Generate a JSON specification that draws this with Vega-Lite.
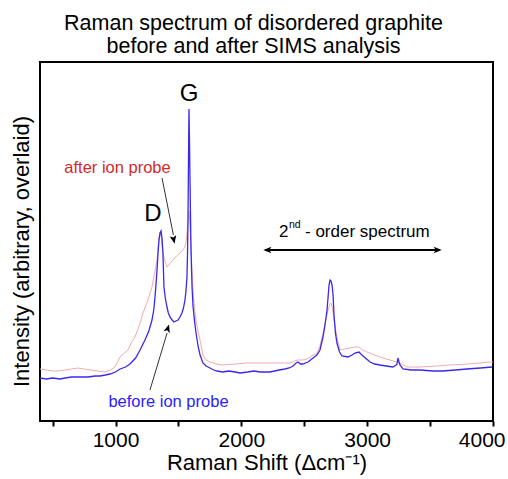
{
  "$schema": "https://vega.github.io/schema/vega-lite/v6.json",
  "width": 453,
  "height": 359,
  "autosize": {"type": "none"},
  "padding": {"left": 40, "top": 62, "right": 15, "bottom": 58},
  "background": "white",
  "config": {
    "view": {"stroke": "black", "strokeWidth": 2},
    "font": "Liberation Sans",
    "axis": {"titleFontWeight": "normal", "titleColor": "black", "labelColor": "black", "grid": false}
  },
  "title": {
    "text": ["Raman spectrum of disordered graphite", "before and after SIMS analysis"],
    "fontSize": 21.5,
    "fontWeight": "normal",
    "font": "Liberation Sans",
    "color": "black",
    "anchor": "middle",
    "dx": -13,
    "offset": 5,
    "lineHeight": 23
  },
  "datasets": {
    "before": [
      {"x":400,"y":43},{"x":450,"y":42},{"x":500,"y":43},{"x":559,"y":42},{"x":600,"y":43},{"x":650,"y":44},{"x":718,"y":44},{"x":780,"y":44},{"x":840,"y":45},{"x":877,"y":45},{"x":920,"y":46},{"x":956,"y":47},{"x":1000,"y":49},{"x":1036,"y":52},{"x":1080,"y":54},{"x":1115,"y":57},{"x":1160,"y":63},{"x":1195,"y":71},{"x":1234,"y":81},{"x":1265,"y":90},{"x":1290,"y":101},{"x":1305,"y":112},{"x":1314,"y":124},{"x":1322,"y":137},{"x":1330,"y":151},{"x":1340,"y":172},{"x":1346,"y":181},{"x":1354,"y":188},{"x":1362,"y":190},{"x":1370,"y":182},{"x":1377,"y":168},{"x":1385,"y":134},{"x":1397,"y":122},{"x":1409,"y":114},{"x":1420,"y":108},{"x":1433,"y":104},{"x":1450,"y":101},{"x":1465,"y":99},{"x":1480,"y":100},{"x":1497,"y":101},{"x":1512,"y":104},{"x":1528,"y":108},{"x":1540,"y":113},{"x":1552,"y":121},{"x":1560,"y":130},{"x":1568,"y":144},{"x":1572,"y":165},{"x":1576,"y":201},{"x":1580,"y":260},{"x":1584,"y":312},{"x":1588,"y":280},{"x":1592,"y":241},{"x":1596,"y":205},{"x":1600,"y":171},{"x":1608,"y":135},{"x":1616,"y":115},{"x":1628,"y":100},{"x":1640,"y":88},{"x":1656,"y":75},{"x":1672,"y":66},{"x":1695,"y":58},{"x":1720,"y":55},{"x":1751,"y":53},{"x":1780,"y":51},{"x":1807,"y":50},{"x":1850,"y":49},{"x":1900,"y":50},{"x":1950,"y":49},{"x":1989,"y":48},{"x":2050,"y":49},{"x":2100,"y":50},{"x":2150,"y":49},{"x":2228,"y":49},{"x":2300,"y":51},{"x":2347,"y":52},{"x":2380,"y":53},{"x":2411,"y":55},{"x":2435,"y":58},{"x":2450,"y":59},{"x":2470,"y":57},{"x":2490,"y":57},{"x":2530,"y":59},{"x":2570,"y":63},{"x":2600,"y":66},{"x":2625,"y":71},{"x":2649,"y":84},{"x":2665,"y":96},{"x":2681,"y":111},{"x":2697,"y":136},{"x":2705,"y":141},{"x":2713,"y":140},{"x":2721,"y":136},{"x":2729,"y":126},{"x":2737,"y":105},{"x":2748,"y":88},{"x":2760,"y":78},{"x":2780,"y":69},{"x":2800,"y":65},{"x":2848,"y":64},{"x":2880,"y":66},{"x":2903,"y":68},{"x":2935,"y":69},{"x":2950,"y":67},{"x":2967,"y":65},{"x":2995,"y":62},{"x":3023,"y":59},{"x":3060,"y":57},{"x":3102,"y":56},{"x":3150,"y":55},{"x":3205,"y":54},{"x":3230,"y":56},{"x":3237,"y":57},{"x":3245,"y":63},{"x":3253,"y":59},{"x":3261,"y":56},{"x":3285,"y":52},{"x":3350,"y":51},{"x":3420,"y":51},{"x":3523,"y":50},{"x":3600,"y":50},{"x":3700,"y":51},{"x":3793,"y":52},{"x":3900,"y":53},{"x":3992,"y":54}
    ],
    "after": [
      {"x":400,"y":52},{"x":450,"y":51},{"x":500,"y":50},{"x":543,"y":50},{"x":600,"y":51},{"x":650,"y":52},{"x":702,"y":53},{"x":750,"y":52},{"x":805,"y":51},{"x":860,"y":50},{"x":917,"y":49},{"x":960,"y":51},{"x":996,"y":54},{"x":1036,"y":64},{"x":1070,"y":68},{"x":1099,"y":71},{"x":1125,"y":78},{"x":1155,"y":84},{"x":1190,"y":96},{"x":1219,"y":108},{"x":1255,"y":120},{"x":1290,"y":134},{"x":1310,"y":147},{"x":1330,"y":161},{"x":1340,"y":175},{"x":1346,"y":184},{"x":1354,"y":189},{"x":1362,"y":186},{"x":1370,"y":176},{"x":1377,"y":168},{"x":1393,"y":160},{"x":1409,"y":154},{"x":1430,"y":157},{"x":1457,"y":161},{"x":1485,"y":165},{"x":1513,"y":168},{"x":1535,"y":171},{"x":1552,"y":174},{"x":1562,"y":180},{"x":1568,"y":188},{"x":1576,"y":200},{"x":1584,"y":210},{"x":1592,"y":195},{"x":1600,"y":175},{"x":1608,"y":150},{"x":1616,"y":130},{"x":1628,"y":112},{"x":1640,"y":100},{"x":1656,"y":90},{"x":1672,"y":81},{"x":1695,"y":66},{"x":1720,"y":61},{"x":1751,"y":59},{"x":1800,"y":57},{"x":1854,"y":56},{"x":1950,"y":57},{"x":2050,"y":58},{"x":2124,"y":58},{"x":2250,"y":58},{"x":2387,"y":58},{"x":2420,"y":60},{"x":2450,"y":61},{"x":2490,"y":61},{"x":2522,"y":62},{"x":2560,"y":65},{"x":2601,"y":68},{"x":2625,"y":75},{"x":2649,"y":88},{"x":2670,"y":100},{"x":2689,"y":111},{"x":2705,"y":117},{"x":2713,"y":118},{"x":2721,"y":115},{"x":2729,"y":108},{"x":2745,"y":95},{"x":2760,"y":84},{"x":2784,"y":71},{"x":2820,"y":72},{"x":2864,"y":73},{"x":2900,"y":74},{"x":2935,"y":74},{"x":2965,"y":71},{"x":2999,"y":69},{"x":3060,"y":66},{"x":3126,"y":63},{"x":3180,"y":61},{"x":3237,"y":59},{"x":3261,"y":58},{"x":3290,"y":56},{"x":3317,"y":54},{"x":3420,"y":54},{"x":3550,"y":55},{"x":3658,"y":56},{"x":3800,"y":57},{"x":3976,"y":59},{"x":4000,"y":59}
    ],
    "peaks": [
      {"x":1584,"y":327,"t":"G"},
      {"x":1298,"y":207,"t":"D"}
    ],
    "afterLabel": [{"x":1016,"y":253,"t":"after ion probe"}],
    "beforeLabel": [{"x":1421,"y":19,"t":"before ion probe"}],
    "orderMain": [
      {"x":2300,"y":189,"t":"2"},
      {"x":2506,"y":189,"t":"- order spectrum"}
    ],
    "orderSup": [{"x":2378,"y":196,"t":"nd"}],
    "arrowLines": [
      {"x":1370,"y":243,"x2":1460,"y2":186},
      {"x":1274,"y":31,"x2":1410,"y2":88},
      {"x":2200,"y":171,"x2":3567,"y2":171}
    ],
    "headAfter": [{"x":1462,"y":182}],
    "headBefore": [{"x":1414,"y":92}],
    "headLeft": [{"x":2212,"y":171}],
    "headRight": [{"x":3555,"y":171}]
  },
  "encoding": {
    "x": {
      "field": "x",
      "type": "quantitative",
      "scale": {"domain": [400, 4000], "nice": false, "zero": false},
      "axis": {
        "title": "Raman Shift (Δcm⁻¹)",
        "titleFontSize": 22,
        "titlePadding": 2,
        "labelFontSize": 21,
        "labelPadding": 3,
        "values": [500,1000,1500,2000,2500,3000,3500,4000],
        "labelExpr": "datum.value % 1000 == 0 ? format(datum.value, 'd') : ''",
        "domain": false,
        "tickSize": 5,
        "tickWidth": 2,
        "tickColor": "black",
        "labelFlush": true,
        "labelFlushOffset": 12,
        "labelOverlap": false
      }
    },
    "y": {
      "field": "y",
      "type": "quantitative",
      "scale": {"domain": [0, 359], "nice": false, "zero": false},
      "axis": {
        "title": "Intensity (arbitrary, overlaid)",
        "titleFontSize": 22,
        "titlePadding": 7,
        "titleY": 189,
        "labels": false,
        "ticks": false,
        "domain": false
      }
    }
  },
  "layer": [
    {"data": {"name": "after"}, "mark": {"type": "line", "color": "#f2acac", "strokeWidth": 1}},
    {"data": {"name": "before"}, "mark": {"type": "line", "color": "#3a28f0", "strokeWidth": 1.3}},
    {"data": {"name": "arrowLines"}, "mark": {"type": "rule", "color": "#333333", "strokeWidth": 1},
     "encoding": {"x2": {"field": "x2"}, "y2": {"field": "y2"}}},
    {"data": {"name": "arrowLines"}, "transform": [{"filter": "datum.y == 171"}], "mark": {"type": "rule", "color": "black", "strokeWidth": 2},
     "encoding": {"x2": {"field": "x2"}, "y2": {"field": "y2"}}},
    {"data": {"name": "headAfter"}, "mark": {"type": "point", "shape": "M0,-1L0.7,0.7L0,0.3L-0.7,0.7Z", "filled": true, "color": "black", "size": 90, "angle": 168, "opacity": 1}},
    {"data": {"name": "headBefore"}, "mark": {"type": "point", "shape": "M0,-1L0.7,0.7L0,0.3L-0.7,0.7Z", "filled": true, "color": "black", "size": 90, "angle": 17, "opacity": 1}},
    {"data": {"name": "headLeft"}, "mark": {"type": "point", "shape": "M0,-1L0.7,0.7L0,0.3L-0.7,0.7Z", "filled": true, "color": "black", "size": 90, "angle": 270, "opacity": 1}},
    {"data": {"name": "headRight"}, "mark": {"type": "point", "shape": "M0,-1L0.7,0.7L0,0.3L-0.7,0.7Z", "filled": true, "color": "black", "size": 90, "angle": 90, "opacity": 1}},
    {"data": {"name": "peaks"}, "mark": {"type": "text", "fontSize": 24, "color": "black", "align": "center", "baseline": "middle"},
     "encoding": {"text": {"field": "t"}}},
    {"data": {"name": "afterLabel"}, "mark": {"type": "text", "fontSize": 16.5, "color": "#d42a2a", "align": "center", "baseline": "middle"},
     "encoding": {"text": {"field": "t"}}},
    {"data": {"name": "beforeLabel"}, "mark": {"type": "text", "fontSize": 16.5, "color": "#2a1eff", "align": "center", "baseline": "middle"},
     "encoding": {"text": {"field": "t"}}},
    {"data": {"name": "orderMain"}, "mark": {"type": "text", "fontSize": 17, "color": "black", "align": "left", "baseline": "middle"},
     "encoding": {"text": {"field": "t"}}},
    {"data": {"name": "orderSup"}, "mark": {"type": "text", "fontSize": 10.5, "color": "black", "align": "left", "baseline": "middle"},
     "encoding": {"text": {"field": "t"}}}
  ]
}
